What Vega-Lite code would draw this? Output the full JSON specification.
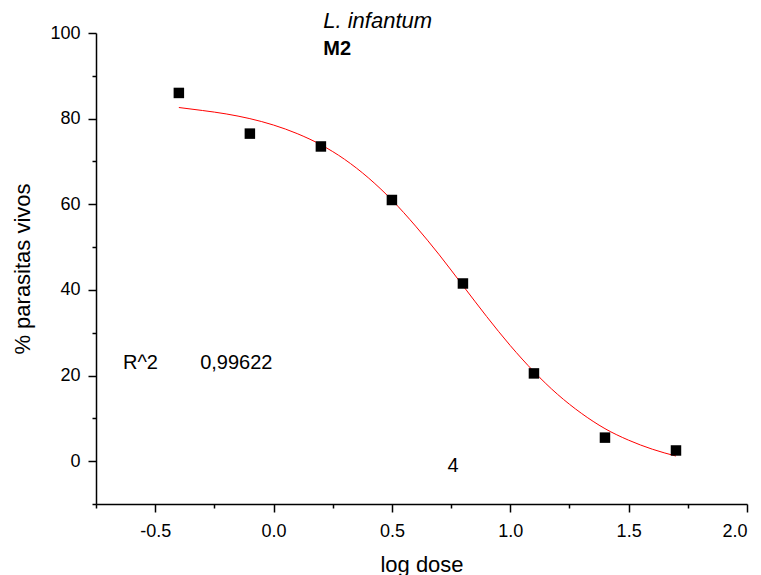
{
  "$schema": "https://vega.github.io/schema/vega-lite/v6.json",
  "width": 651,
  "height": 471,
  "autosize": {"type": "none"},
  "padding": {"left": 96, "top": 33, "right": 14, "bottom": 71},
  "background": "white",
  "config": {
    "view": {"stroke": null},
    "font": "Liberation Sans",
    "axis": {"grid": false, "domainColor": "black", "tickColor": "black", "labelColor": "black", "titleColor": "black", "domainWidth": 1.5, "tickWidth": 1.5, "labelFont": "Liberation Sans", "titleFont": "Liberation Sans", "titleFontWeight": "normal"}
  },
  "datasets": {
    "points": [
      {"logdose": -0.4, "pct": 86},
      {"logdose": -0.1, "pct": 76.5},
      {"logdose": 0.2, "pct": 73.5},
      {"logdose": 0.5, "pct": 61},
      {"logdose": 0.8, "pct": 41.5},
      {"logdose": 1.1, "pct": 20.5},
      {"logdose": 1.4, "pct": 5.5},
      {"logdose": 1.7, "pct": 2.5}
    ],
    "curve": [
      {"logdose": -0.4, "fit": 82.6},
      {"logdose": -0.3, "fit": 81.9},
      {"logdose": -0.2, "fit": 81.1},
      {"logdose": -0.1, "fit": 80.0},
      {"logdose": 0.0, "fit": 78.5},
      {"logdose": 0.1, "fit": 76.5},
      {"logdose": 0.2, "fit": 73.9},
      {"logdose": 0.3, "fit": 70.5},
      {"logdose": 0.4, "fit": 66.2},
      {"logdose": 0.5, "fit": 61.0},
      {"logdose": 0.6, "fit": 54.9},
      {"logdose": 0.7, "fit": 48.2},
      {"logdose": 0.8, "fit": 41.0},
      {"logdose": 0.9, "fit": 33.8},
      {"logdose": 1.0, "fit": 27.0},
      {"logdose": 1.1, "fit": 20.9},
      {"logdose": 1.2, "fit": 15.6},
      {"logdose": 1.3, "fit": 11.2},
      {"logdose": 1.4, "fit": 7.6},
      {"logdose": 1.5, "fit": 4.9},
      {"logdose": 1.6, "fit": 2.8},
      {"logdose": 1.7, "fit": 1.2}
    ],
    "notes": [
      {"logdose": -0.636, "pct": 22.9, "label": "R^2"},
      {"logdose": -0.31, "pct": 22.9, "label": "0,99622"},
      {"logdose": 0.735, "pct": -1.2, "label": "4"}
    ],
    "title1": [
      {"logdose": 0.21, "pct": 101.2, "label": "L. infantum"}
    ],
    "title2": [
      {"logdose": 0.21, "pct": 94.9, "label": "M2"}
    ]
  },
  "resolve": {"axis": {"x": "independent", "y": "independent"}},
  "layer": [
    {
      "data": {"name": "curve"},
      "mark": {"type": "line", "color": "#ff0000", "strokeWidth": 1, "interpolate": "monotone"},
      "encoding": {
        "x": {"field": "logdose", "type": "quantitative", "scale": {"domain": [-0.75, 2.0], "nice": false, "zero": false},
          "axis": {"orient": "bottom", "title": "log dose", "values": [-0.5, 0, 0.5, 1, 1.5, 2], "labelExpr": "replace(format(datum.value, '.1f'), '−', '-')", "tickSize": 8, "labelPadding": 10, "labelFontSize": 18, "titleFontSize": 22, "titlePadding": 14}},
        "y": {"field": "fit", "type": "quantitative", "scale": {"domain": [-10, 100], "nice": false, "zero": false},
          "axis": {"orient": "left", "title": "% parasitas vivos", "values": [0, 20, 40, 60, 80, 100], "tickSize": 8, "labelPadding": 8, "labelFontSize": 18, "titleFontSize": 22, "titlePadding": 15}}
      }
    },
    {
      "data": {"name": "points"},
      "mark": {"type": "point", "shape": "square", "filled": true, "color": "black", "size": 110, "opacity": 1},
      "encoding": {
        "x": {"field": "logdose", "type": "quantitative",
          "axis": {"orient": "bottom", "title": null, "values": [-0.75, -0.25, 0.25, 0.75, 1.25, 1.75], "labels": false, "domain": false, "tickSize": 4}},
        "y": {"field": "pct", "type": "quantitative",
          "axis": {"orient": "left", "title": null, "values": [-10, 10, 30, 50, 70, 90], "labels": false, "domain": false, "tickSize": 4}}
      }
    },
    {
      "data": {"name": "notes"},
      "mark": {"type": "text", "fontSize": 20, "align": "left", "baseline": "middle", "color": "black"},
      "encoding": {
        "x": {"field": "logdose", "type": "quantitative", "axis": null},
        "y": {"field": "pct", "type": "quantitative", "axis": null},
        "text": {"field": "label"}
      }
    },
    {
      "data": {"name": "title1"},
      "mark": {"type": "text", "fontSize": 22, "fontStyle": "italic", "align": "left", "baseline": "alphabetic", "color": "black"},
      "encoding": {
        "x": {"field": "logdose", "type": "quantitative", "axis": null},
        "y": {"field": "pct", "type": "quantitative", "axis": null},
        "text": {"field": "label"}
      }
    },
    {
      "data": {"name": "title2"},
      "mark": {"type": "text", "fontSize": 20, "fontWeight": "bold", "align": "left", "baseline": "alphabetic", "color": "black"},
      "encoding": {
        "x": {"field": "logdose", "type": "quantitative", "axis": null},
        "y": {"field": "pct", "type": "quantitative", "axis": null},
        "text": {"field": "label"}
      }
    }
  ]
}
